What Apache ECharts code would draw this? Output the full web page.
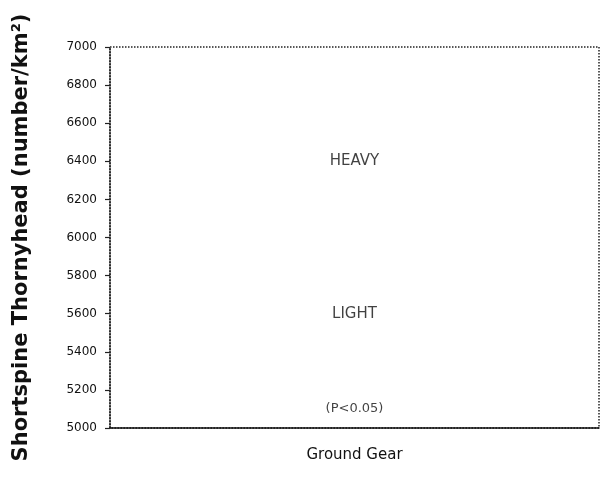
<!DOCTYPE html>
<html>
<head>
<meta charset="utf-8">
<script src="https://cdn.jsdelivr.net/npm/echarts@6/dist/echarts.min.js"></script>
<style>
  html, body { margin: 0; padding: 0; background: #fff; }
  #chart { width: 603px; height: 491px; }
</style>
</head>
<body>
<div id="chart"></div>
<script>
// Gear type on the x axis
const categories = ['Ground Gear'];
// Y axis range and step
const yMin = 5000;
const yMax = 7000;
const yStep = 200;
// Text annotations placed at data positions inside the plot
const noteNames = ['HEAVY', 'LIGHT', '(P<0.05)'];
const noteValues = [6400, 5600, 5100];

const FONT = '"DejaVu Sans", Arial, sans-serif';
const chart = echarts.init(document.getElementById('chart'));

const notes = noteNames.map((n, i) => ({
  name: n,
  value: [categories[0], noteValues[i]],
  label: { fontSize: i === 2 ? 13 : 15 }
}));

chart.setOption({
  animation: false,
  backgroundColor: '#fff',
  grid: {
    left: 110, right: 4, top: 47, bottom: 63,
    outerBoundsMode: 'none',
    containLabel: false,
    show: true,
    borderColor: '#222',
    borderWidth: 1.5,
    borderType: 'dotted'
  },
  xAxis: {
    type: 'category',
    data: categories,
    boundaryGap: true,
    axisLine: { show: true, lineStyle: { color: '#111', width: 1.5 } },
    axisTick: { show: false },
    axisLabel: { color: '#111', fontFamily: FONT, fontSize: 15, margin: 20 }
  },
  yAxis: {
    type: 'value',
    min: yMin, max: yMax, interval: yStep,
    name: 'Shortspine Thornyhead (number/km²)',
    nameLocation: 'middle',
    nameGap: 78,
    nameTextStyle: { color: '#111', fontFamily: FONT, fontWeight: 'bold', fontSize: 21 },
    axisLine: { show: true, lineStyle: { color: '#222', width: 1.5, type: 'dotted' } },
    axisTick: { show: true, length: 5, lineStyle: { color: '#222', width: 1.2 } },
    splitLine: { show: false },
    axisLabel: {
      color: '#111', fontFamily: FONT, fontSize: 12, margin: 13,
      formatter: v => String(v)
    }
  },
  series: [{
    type: 'scatter',
    symbolSize: 0,
    data: notes,
    label: {
      show: true,
      position: 'inside',
      formatter: p => p.name,
      color: '#111',
      fontFamily: FONT
    }
  }]
});
</script>
</body>
</html>
